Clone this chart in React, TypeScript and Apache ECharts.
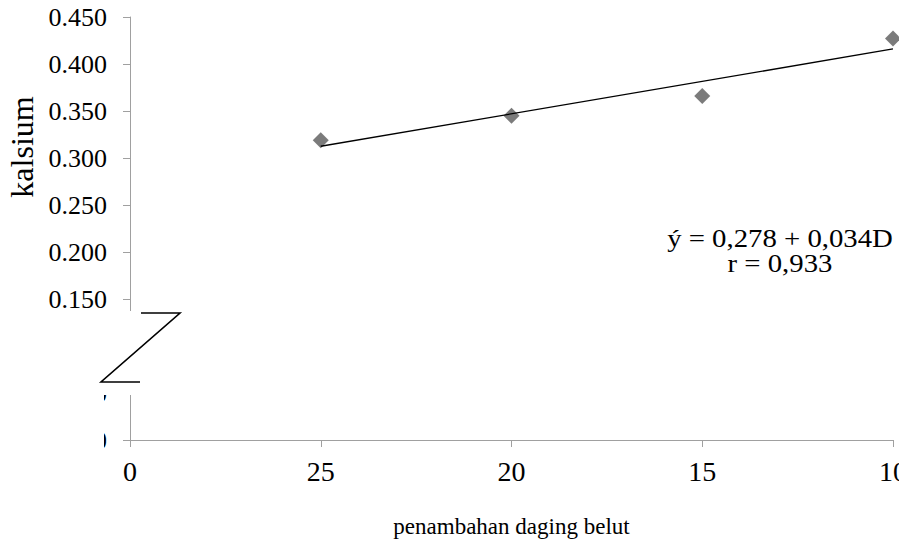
import React, { useEffect, useRef } from "react";
import * as echarts from "echarts";

const categories = ["0", "25", "20", "15", "10"];
const kalsium = [null, 0.319, 0.345, 0.366, 0.427];
const trendLine: [number, number][] = [
  [1, 0.3125],
  [4, 0.416],
];
const yTicks = { min: 0, max: 0.45, interval: 0.05 };
const equationLines = ["ý = 0,278 + 0,034D", "r = 0,933"];
const yTitle = "kalsium";
const xTitle = "penambahan daging belut";

const FONT = "Liberation Serif";

export default function App() {
  const ref = useRef<HTMLDivElement>(null);
  useEffect(() => {
    if (!ref.current) return;
    const chart = echarts.init(ref.current, null, { renderer: "svg" });
    const option: any = {
      animation: false,
      backgroundColor: "#ffffff",
      textStyle: { fontFamily: FONT },
      grid: { left: 130, right: 6, top: 17, bottom: 106, containLabel: false, outerBoundsMode: "none" },
      xAxis: {
        type: "category",
        data: categories,
        boundaryGap: false,
        name: xTitle,
        nameLocation: "middle",
        nameGap: 75,
        nameTextStyle: { fontFamily: FONT, fontSize: 23, color: "#000" },
        axisLine: { lineStyle: { color: "#a0a0a0", width: 1 } },
        axisTick: { show: true, length: 7, alignWithLabel: true, interval: 0, lineStyle: { color: "#a0a0a0" } },
        axisLabel: { interval: 0, margin: 17, fontFamily: FONT, fontSize: 28, color: "#000" },
        splitLine: { show: false },
      },
      yAxis: {
        type: "value",
        min: yTicks.min,
        max: yTicks.max,
        interval: yTicks.interval,
        axisLine: { show: true, lineStyle: { color: "#a0a0a0", width: 1 } },
        axisTick: { show: true, length: 7, lineStyle: { color: "#a0a0a0" } },
        axisLabel: {
          margin: 23,
          fontFamily: FONT,
          fontSize: 26,
          color: "#000",
          formatter: (v: number) => v.toFixed(3),
        },
        splitLine: { show: false },
      },
      series: [
        {
          type: "scatter",
          data: kalsium,
          symbol: "diamond",
          symbolSize: 16,
          itemStyle: { color: "#5a5a5a" },
          z: 3,
        },
        {
          type: "line",
          data: trendLine,
          symbol: "none",
          lineStyle: { color: "#000", width: 1.3 },
          z: 4,
        },
      ],
      graphic: [
        { type: "rect", z: 100, shape: { x: 0, y: 312, width: 104, height: 160 }, style: { fill: "#fff" } },
        { type: "rect", z: 100, shape: { x: 100, y: 311, width: 40, height: 84 }, style: { fill: "#fff" } },
        {
          type: "polyline",
          z: 101,
          shape: { points: [[141, 313], [180, 313], [101, 382], [140, 382]] },
          style: { stroke: "#000", lineWidth: 1.6, fill: "none" },
        },
        {
          type: "text",
          z: 101,
          x: 22,
          y: 147,
          rotation: Math.PI / 2,
          style: { text: yTitle, fontFamily: FONT, fontSize: 32, fill: "#000", align: "center", verticalAlign: "middle" },
        },
        {
          type: "text",
          z: 101,
          x: 780,
          y: 251,
          scaleX: 1.15,
          style: {
            text: equationLines.join("\n"),
            fontFamily: FONT,
            fontSize: 25,
            lineHeight: 25,
            fill: "#000",
            align: "center",
            verticalAlign: "middle",
          },
        },
      ],
    };
    chart.setOption(option);
    return () => chart.dispose();
  }, []);
  return (
    <div
      ref={ref}
      style={{ position: "fixed", left: 0, top: 0, width: 899, height: 546, background: "#fff" }}
    />
  );
}
